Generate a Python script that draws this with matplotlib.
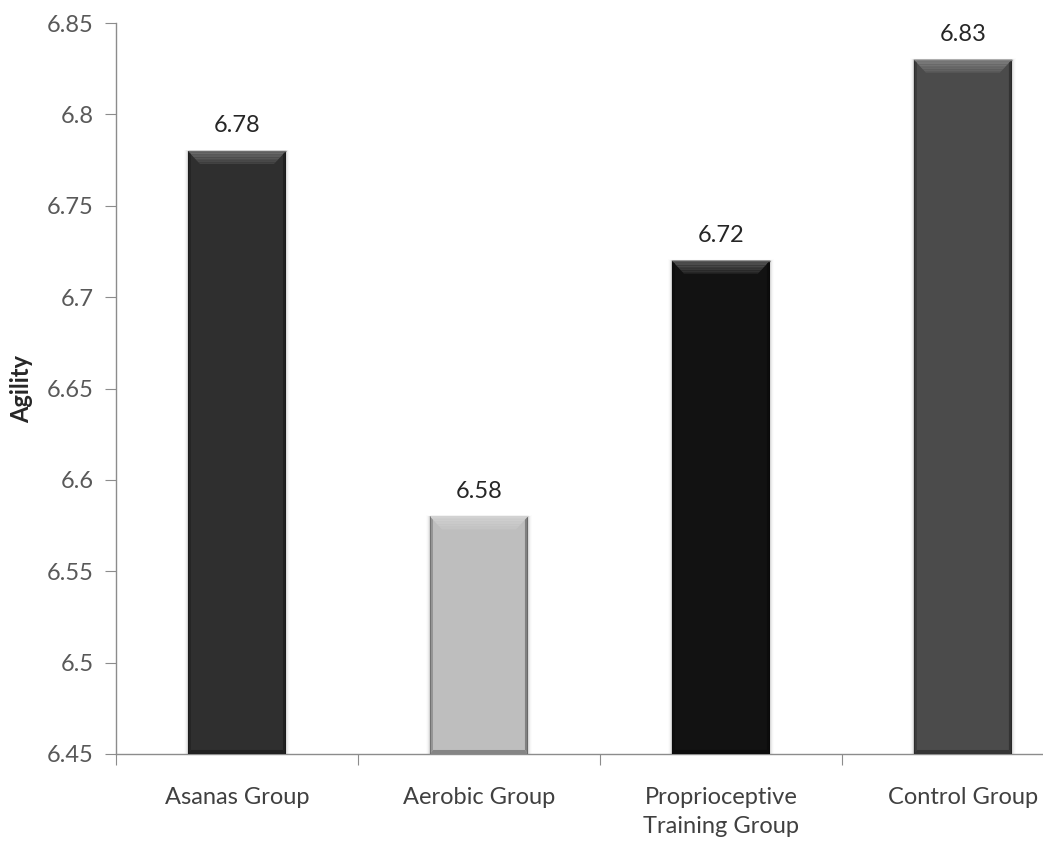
import numpy as np
import matplotlib.pyplot as plt
from matplotlib.patches import Polygon
from matplotlib.colors import to_rgb

groups = ["Asanas Group", "Aerobic Group", "Proprioceptive\nTraining Group", "Control Group"]
agility = [6.78, 6.58, 6.72, 6.83]
bar_colors = ["#2f2f2f", "#bebebe", "#121212", "#4b4b4b"]
yticks = [6.45, 6.5, 6.55, 6.6, 6.65, 6.7, 6.75, 6.8, 6.85]


def shade(color, f):
    c = np.array(to_rgb(color))
    if f >= 0:
        return tuple(c + (1 - c) * f)
    return tuple(c * (1 + f))


plt.rcParams["font.family"] = ["Lato", "DejaVu Sans"]

fig = plt.figure(figsize=(10.43, 8.43), dpi=100)
ax = fig.add_axes([0.1112, 0.1056, 0.928, 0.867])

x = np.arange(len(groups))
width = 0.405
ymin, ymax = 6.45, 6.85
bars = ax.bar(x, np.array(agility) - ymin, width, bottom=ymin, color=bar_colors,
              edgecolor="none", zorder=2)

ax.set_xlim(-0.5, len(groups) - 0.5)
ax.set_ylim(ymin, ymax)

# bevelled edges, sized in pixels then converted to data units
fig.canvas.draw()
inv = ax.transData.inverted()
p0 = inv.transform((0, 0))


def px(dx, dy):
    return inv.transform((dx, dy)) - p0


def quad(pts, color, z=3):
    ax.add_patch(Polygon(pts, closed=True, facecolor=color, edgecolor="none", zorder=z))


bx, by = px(12, 13)
ex, _ = px(3, 0)
_, fy = px(0, 4)
for xi, v, c in zip(x, agility, bar_colors):
    l, r = xi - width / 2, xi + width / 2
    # soft outer shadow
    for k, a in enumerate([0.07, 0.045, 0.025, 0.012]):
        q = px(k + 1, k + 1)
        quad([(l - q[0], ymin), (l - q[0], v + q[1] * 0.3),
              (r + q[0], v + q[1] * 0.3), (r + q[0], ymin)], (0, 0, 0, a), z=1)
    # top bevel: banded gradient, light at the edge fading into the face
    n = 8
    for k in range(n):
        t0, t1 = k / n, (k + 1) / n
        quad([(l + bx * t0, v - by * t0), (r - bx * t0, v - by * t0),
              (r - bx * t1, v - by * t1), (l + bx * t1, v - by * t1)],
             shade(c, 0.26 * (1 - t0) ** 0.8 + 0.04))
    # side edges
    quad([(l, v), (l + ex, v - by * ex / bx), (l + ex, ymin + fy), (l, ymin)],
         shade(c, -0.22))
    quad([(r, v), (r - ex, v - by * ex / bx), (r - ex, ymin + fy), (r, ymin)],
         shade(c, -0.32))
    quad([(l, v), (l + ex * 0.35, v), (l + ex * 0.35, ymin), (l, ymin)],
         shade(c, -0.4), z=4)
    quad([(r, v), (r - ex * 0.35, v), (r - ex * 0.35, ymin), (r, ymin)],
         shade(c, -0.45), z=4)
    # bottom edge
    quad([(l, ymin), (r, ymin), (r - ex, ymin + fy), (l + ex, ymin + fy)],
         shade(c, -0.3))
    ax.plot([l, r], [v, v], color=shade(c, 0.3), lw=1.0, zorder=5,
            solid_capstyle="butt")
    ax.text(xi, v + 0.008, f"{v:.2f}", ha="center", va="bottom",
            fontsize=17, color="#262626", zorder=5)

ax.set_xticks(np.arange(-0.5, len(groups) + 0.5, 1.0))
ax.set_xticklabels([])
ax.set_xticks(x, minor=True)
ax.set_xticklabels(groups, minor=True, fontsize=17, color="#404040",
                   linespacing=1.45)
ax.tick_params(axis="x", which="minor", length=0, pad=24)
ax.tick_params(axis="x", which="major", length=8, direction="out", color="#8c8c8c")

ax.set_yticks(yticks)
ax.set_yticklabels([f"{t:g}" for t in yticks], fontsize=17, color="#595959")
ax.tick_params(axis="y", length=8, direction="out", color="#8c8c8c", pad=8)
ax.set_ylabel("Agility", fontsize=17, fontweight="bold", color="#262626", labelpad=10)

for s in ["top", "right"]:
    ax.spines[s].set_visible(False)
for s in ["left", "bottom"]:
    ax.spines[s].set_color("#8c8c8c")
    ax.spines[s].set_linewidth(1.0)

fig.savefig("out.png", dpi=100)
